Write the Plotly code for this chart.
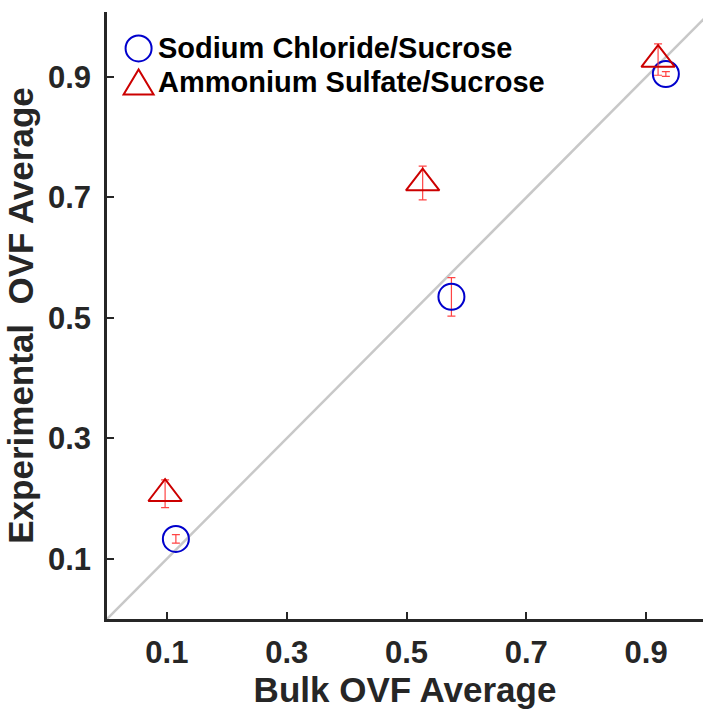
import plotly.graph_objects as go

# Data
series_names = ["Sodium Chloride/Sucrose", "Ammonium Sulfate/Sucrose"]
nacl_bulk = [0.115, 0.575, 0.933]
nacl_exp = [0.133, 0.535, 0.905]
nacl_err = [0.007, 0.032, 0.004]
amsul_bulk = [0.097, 0.527, 0.920]
amsul_exp = [0.208, 0.724, 0.929]
amsul_err = [0.023, 0.028, 0.026]
ref_line = [0, 1]
tick_vals = [0.1, 0.3, 0.5, 0.7, 0.9]
tick_text = ["0.1", "0.3", "0.5", "0.7", "0.9"]

BLUE = "#0000cc"
RED = "#cc0000"
ERR = "#ff4444"
AX = "#262626"
FONT = "Liberation Sans"

fig = go.Figure()
fig.add_trace(go.Scatter(x=ref_line, y=ref_line, mode="lines",
                         line=dict(color="#c8c8c8", width=2.5),
                         showlegend=False, hoverinfo="skip"))
fig.add_trace(go.Scatter(x=nacl_bulk, y=nacl_exp, mode="markers", name=series_names[0],
                         marker=dict(symbol="circle-open", size=26, color=BLUE,
                                     line=dict(width=2, color=BLUE)),
                         error_y=dict(type="data", array=nacl_err, color=ERR,
                                      thickness=1.2, width=4),
                         showlegend=False))
fig.add_trace(go.Scatter(x=amsul_bulk, y=amsul_exp, mode="markers", name=series_names[1],
                         marker=dict(symbol="triangle-up-open", size=29, color=RED,
                                     line=dict(width=2, color=RED)),
                         error_y=dict(type="data", array=amsul_err, color=ERR,
                                      thickness=1.2, width=4),
                         showlegend=False))

axis_common = dict(showgrid=False, zeroline=False, showline=True, linecolor=AX,
                   linewidth=2.5, ticks="inside", ticklen=7, tickwidth=2,
                   tickcolor=AX, tickvals=tick_vals, ticktext=tick_text,
                   tickfont=dict(family=FONT, size=31, color=AX, weight="bold"),
                   mirror=False)

fig.update_layout(
    width=703, height=712,
    margin=dict(l=107, r=0, t=12, b=93),
    plot_bgcolor="white", paper_bgcolor="white",
    showlegend=False,
    xaxis=dict(range=[0, 0.995], **axis_common, ticklabelstandoff=4,
               title=dict(text="Bulk OVF Average", standoff=6,
                          font=dict(family=FONT, size=35, color=AX, weight="bold"))),
    yaxis=dict(range=[0, 1.008], **axis_common, ticklabelstandoff=7,
               title=dict(text="Experimental\u00a0 OVF Average", standoff=4,
                          font=dict(family=FONT, size=35, color=AX, weight="bold"))),
)

# Custom legend (larger symbols than plotly's built-in legend allows)
legend_rows = [(0.94, "circle", BLUE), (0.884, "triangle", RED)]
lx = 0.053
for (ly, kind, col), name in zip(legend_rows, series_names):
    if kind == "circle":
        fig.add_shape(type="circle", xref="paper", yref="paper",
                      xsizemode="pixel", ysizemode="pixel", xanchor=lx, yanchor=ly,
                      x0=-13, x1=13, y0=-13, y1=13,
                      line=dict(color=col, width=2))
    else:
        fig.add_shape(type="path", xref="paper", yref="paper",
                      xsizemode="pixel", ysizemode="pixel", xanchor=lx, yanchor=ly,
                      path="M -15 -12 L 15 -12 L 0 13 Z",
                      line=dict(color=col, width=2))
    fig.add_annotation(x=lx, y=ly, xref="paper", yref="paper", xshift=17,
                       text=name, showarrow=False, xanchor="left", yanchor="middle",
                       font=dict(family=FONT, size=29, color="black", weight="bold"))

fig.write_html("out.html", config={"displayModeBar": False},
               post_script="document.body.style.margin='0';")
